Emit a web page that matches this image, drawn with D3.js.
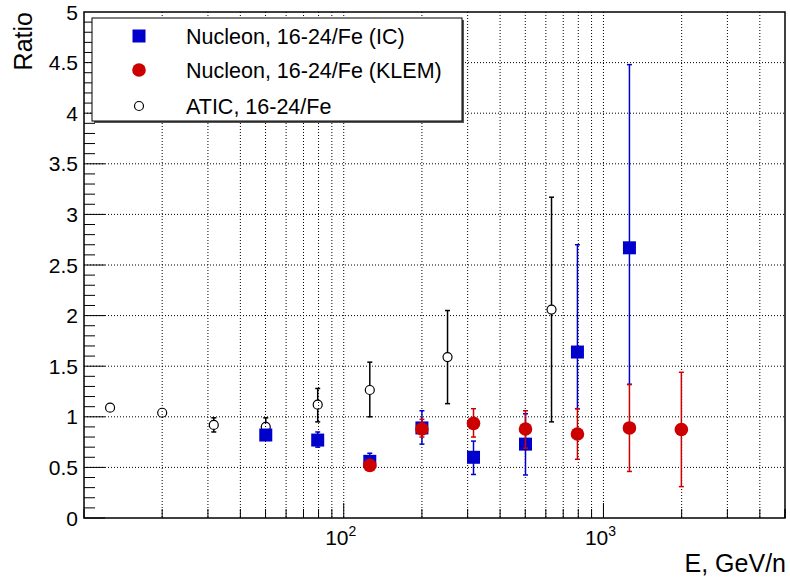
<!DOCTYPE html>
<html>
<head>
<meta charset="utf-8">
<script src="https://cdn.jsdelivr.net/npm/d3@7"></script>
<style>
  body { margin: 0; background: #fff; }
  svg { font-family: "Liberation Sans", Arial, Helvetica, sans-serif; }
</style>
</head>
<body>
<div id="chart"></div>
<script>
// ATIC, 16-24/Fe
var aticE = [12.6, 20.0, 31.6, 50.1, 79.4, 126, 251, 631];
var aticR = [1.09, 1.04, 0.92, 0.90, 1.12, 1.265, 1.59, 2.06];
var aticHi = [1.11, 1.07, 0.99, 0.99, 1.28, 1.54, 2.05, 3.17];
var aticLo = [1.07, 1.01, 0.85, 0.81, 0.95, 1.00, 1.13, 0.95];

// Nucleon, 16-24/Fe (IC)
var icE = [50.1, 79.4, 126, 200, 316, 501, 794, 1259];
var icR = [0.82, 0.77, 0.56, 0.89, 0.60, 0.73, 1.64, 2.67];
var icHi = [0.85, 0.85, 0.64, 1.06, 0.76, 1.03, 2.70, 4.48];
var icLo = [0.79, 0.70, 0.50, 0.73, 0.43, 0.425, 1.08, 1.32];

// Nucleon, 16-24/Fe (KLEM)
var klE = [126, 200, 316, 501, 794, 1259, 1995];
var klR = [0.52, 0.88, 0.935, 0.88, 0.83, 0.89, 0.875];
var klHi = [0.55, 0.975, 1.08, 1.06, 1.08, 1.32, 1.44];
var klLo = [0.49, 0.80, 0.80, 0.69, 0.58, 0.46, 0.31];

var yTicks = [0, 0.5, 1, 1.5, 2, 2.5, 3, 3.5, 4, 4.5, 5];
var legendLabels = ["Nucleon, 16-24/Fe (IC)", "Nucleon, 16-24/Fe (KLEM)", "ATIC, 16-24/Fe"];

var blue = "#0000cc", red = "#cc0000";

var W = 790, H = 579;
var m = { top: 12, right: 5, bottom: 61, left: 84 };
var w = W - m.left - m.right, h = H - m.top - m.bottom;

var svg = d3.select("#chart").append("svg")
  .attr("width", W).attr("height", H);

var g = svg.append("g")
  .attr("transform", "translate(" + m.left + "," + m.top + ")");

var x = d3.scaleLog().domain([10, 5000]).range([0, w]);
var y = d3.scaleLinear().domain([0, 5]).range([h, 0]);

// all log ticks 10..5000
var xt = [];
[10, 100, 1000].forEach(function (d) {
  for (var k = 1; k < 10; k++) { if (d * k <= 5000) xt.push(d * k); }
});
xt.push(5000);
var yMinor = d3.range(0, 50).map(function (i) { return i / 10; });

// grid
g.append("g").selectAll("line.vg")
  .data(xt.filter(function (d) { return d > 10 && d < 5000; }))
  .enter().append("line")
  .attr("x1", function (d) { return x(d); }).attr("x2", function (d) { return x(d); })
  .attr("y1", 0).attr("y2", h)
  .attr("stroke", "#000").attr("stroke-width", 1).attr("stroke-dasharray", "1,2");

g.append("g").selectAll("line.hg")
  .data(yTicks.filter(function (d) { return d > 0 && d < 5; }))
  .enter().append("line")
  .attr("x1", 0).attr("x2", w)
  .attr("y1", function (d) { return y(d); }).attr("y2", function (d) { return y(d); })
  .attr("stroke", "#000").attr("stroke-width", 1).attr("stroke-dasharray", "1,2");

// frame
g.append("rect").attr("x", 0).attr("y", 0).attr("width", w).attr("height", h)
  .attr("fill", "none").attr("stroke", "#000").attr("stroke-width", 1.5);

// y axis ticks
g.append("g").selectAll("line")
  .data(yMinor)
  .enter().append("line")
  .attr("x1", 0)
  .attr("x2", function (d, i) { return i % 5 === 0 ? 21 : 11; })
  .attr("y1", function (d) { return y(d); }).attr("y2", function (d) { return y(d); })
  .attr("stroke", "#000");

g.append("g").selectAll("text")
  .data(yTicks)
  .enter().append("text")
  .attr("x", -6).attr("y", function (d) { return y(d); })
  .attr("dy", "0.36em")
  .attr("text-anchor", "end")
  .attr("font-size", 21)
  .text(function (d) { return d; });

// x axis ticks
g.append("g").selectAll("line")
  .data(xt)
  .enter().append("line")
  .attr("x1", function (d) { return x(d); }).attr("x2", function (d) { return x(d); })
  .attr("y1", h)
  .attr("y2", function (d) { return (d === 100 || d === 1000) ? h - 15 : h - 9; })
  .attr("stroke", "#000");

[[100, "2"], [1000, "3"]].forEach(function (p) {
  var t = g.append("text")
    .attr("x", x(p[0]) - 3).attr("y", h + 27)
    .attr("text-anchor", "middle")
    .attr("font-size", 21);
  t.append("tspan").text("10");
  t.append("tspan").attr("dy", -9).attr("font-size", 14).text(p[1]);
});

// axis titles
svg.append("text")
  .attr("x", W - 4).attr("y", 572)
  .attr("text-anchor", "end")
  .attr("font-size", 25)
  .text("E, GeV/n");

svg.append("text")
  .attr("transform", "translate(32,12) rotate(-90)")
  .attr("text-anchor", "end")
  .attr("font-size", 25)
  .text("Ratio");

// error bars helper
function errBars(sel, E, R, Lo, Hi, color, gap) {
  E.forEach(function (e, i) {
    var cx = x(e), cy = y(R[i]), yh = y(Hi[i]), yl = y(Lo[i]);
    if (cy - gap > yh) {
      sel.append("line").attr("x1", cx).attr("x2", cx).attr("y1", yh).attr("y2", cy - gap)
        .attr("stroke", color).attr("stroke-width", 1.5);
    }
    if (cy + gap < yl) {
      sel.append("line").attr("x1", cx).attr("x2", cx).attr("y1", cy + gap).attr("y2", yl)
        .attr("stroke", color).attr("stroke-width", 1.5);
    }
    [yh, yl].forEach(function (yy) {
      if (Math.abs(yy - cy) > gap) {
        sel.append("line").attr("x1", cx - 2.5).attr("x2", cx + 2.5).attr("y1", yy).attr("y2", yy)
          .attr("stroke", color).attr("stroke-width", 1.5);
      }
    });
  });
}

// ATIC
var ga = g.append("g");
errBars(ga, aticE, aticR, aticLo, aticHi, "#000", 4.5);
ga.selectAll("circle").data(aticE).enter().append("circle")
  .attr("cx", function (d) { return x(d); })
  .attr("cy", function (d, i) { return y(aticR[i]); })
  .attr("r", 4.5)
  .attr("fill", "none").attr("stroke", "#000").attr("stroke-width", 1.2);

// IC
var gi = g.append("g");
errBars(gi, icE, icR, icLo, icHi, blue, 0);
gi.selectAll("rect").data(icE).enter().append("rect")
  .attr("x", function (d) { return x(d) - 6.5; })
  .attr("y", function (d, i) { return y(icR[i]) - 6.5; })
  .attr("width", 13).attr("height", 13)
  .attr("fill", blue);

// KLEM
var gk = g.append("g");
errBars(gk, klE, klR, klLo, klHi, red, 0);
gk.selectAll("circle").data(klE).enter().append("circle")
  .attr("cx", function (d) { return x(d); })
  .attr("cy", function (d, i) { return y(klR[i]); })
  .attr("r", 6.8)
  .attr("fill", red);

// legend
var lg = svg.append("g");
lg.append("rect").attr("x", 94).attr("y", 20).attr("width", 370).attr("height", 103)
  .attr("fill", "#555");
lg.append("rect").attr("x", 92).attr("y", 18).attr("width", 370).attr("height", 103)
  .attr("fill", "#fff").attr("stroke", "#000").attr("stroke-width", 1);

var rowsY = [36, 70, 106];
lg.append("rect").attr("x", 139 - 6.5).attr("y", rowsY[0] - 6.5).attr("width", 13).attr("height", 13).attr("fill", blue);
lg.append("circle").attr("cx", 139).attr("cy", rowsY[1]).attr("r", 6.8).attr("fill", red);
lg.append("circle").attr("cx", 139).attr("cy", rowsY[2]).attr("r", 4.5)
  .attr("fill", "none").attr("stroke", "#000").attr("stroke-width", 1.2);

lg.selectAll("text").data(legendLabels).enter().append("text")
  .attr("x", 186).attr("y", function (d, i) { return rowsY[i]; })
  .attr("dy", "0.36em")
  .attr("font-size", 21.5)
  .text(function (d) { return d; });
</script>
</body>
</html>
